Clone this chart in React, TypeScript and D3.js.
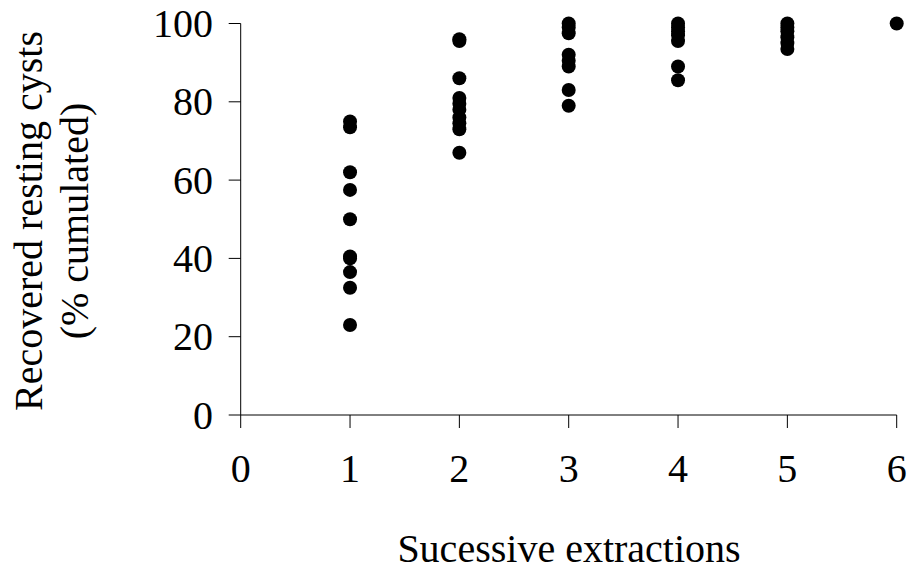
import React from "react";
import * as d3 from "d3";

const extraction1 = [75, 73.5, 62, 57.5, 50, 40.5, 40, 36.5, 32.5, 23];
const extraction2 = [96, 95.5, 86, 81, 79.5, 78, 76, 74.5, 73, 67];
const extraction3 = [100, 99, 97.5, 92, 90.5, 89, 83, 79];
const extraction4 = [100, 99, 98, 97, 95.5, 89, 85.5];
const extraction5 = [100, 99, 98, 96.5, 95, 93.5];
const extraction6 = [100];
const xTicks = [0, 1, 2, 3, 4, 5, 6];
const yTicks = [0, 20, 40, 60, 80, 100];

const series = [extraction1, extraction2, extraction3, extraction4, extraction5, extraction6];

export default function App() {
  const W = 913, H = 575;
  const x = d3.scaleLinear().domain([0, 6]).range([240.7, 896.7]);
  const y = d3.scaleLinear().domain([0, 100]).range([415, 23.5]);
  const font = "'Liberation Serif', 'Times New Roman', serif";
  const pts: { k: number; v: number }[] = [];
  series.forEach((arr, i) => arr.forEach((v) => pts.push({ k: i + 1, v })));
  return (
    <svg width={W} height={H} style={{ position: "absolute", left: 0, top: 0, background: "#fff" }}>
      <line x1={x(0)} x2={x(6)} y1={y(0)} y2={y(0)} stroke="#000" strokeWidth={1} />
      <line x1={x(0)} x2={x(0)} y1={y(0)} y2={y(100)} stroke="#000" strokeWidth={1} />
      {yTicks.map((t) => (
        <g key={"y" + t}>
          <line x1={x(0) - 12} x2={x(0)} y1={y(t)} y2={y(t)} stroke="#000" />
          <text x={213} y={y(t) + 13.5} textAnchor="end" fontFamily={font} fontSize={40} fill="#000">{t}</text>
        </g>
      ))}
      {xTicks.map((t) => (
        <g key={"x" + t}>
          <line x1={x(t)} x2={x(t)} y1={y(0)} y2={y(0) + 13} stroke="#000" />
          <text x={x(t)} y={482} textAnchor="middle" fontFamily={font} fontSize={40} fill="#000">{t}</text>
        </g>
      ))}
      {pts.map((p, i) => (
        <circle key={i} cx={x(p.k)} cy={y(p.v)} r={7} fill="#000" />
      ))}
      <text x={569} y={562} textAnchor="middle" fontFamily={font} fontSize={40} fill="#000">Sucessive extractions</text>
      <g transform="translate(42,221) rotate(-90)">
        <text x={0} y={0} textAnchor="middle" fontFamily={font} fontSize={40} fill="#000">Recovered resting cysts</text>
      </g>
      <g transform="translate(88,221) rotate(-90)">
        <text x={0} y={0} textAnchor="middle" fontFamily={font} fontSize={40} fill="#000">(% cumulated)</text>
      </g>
    </svg>
  );
}
